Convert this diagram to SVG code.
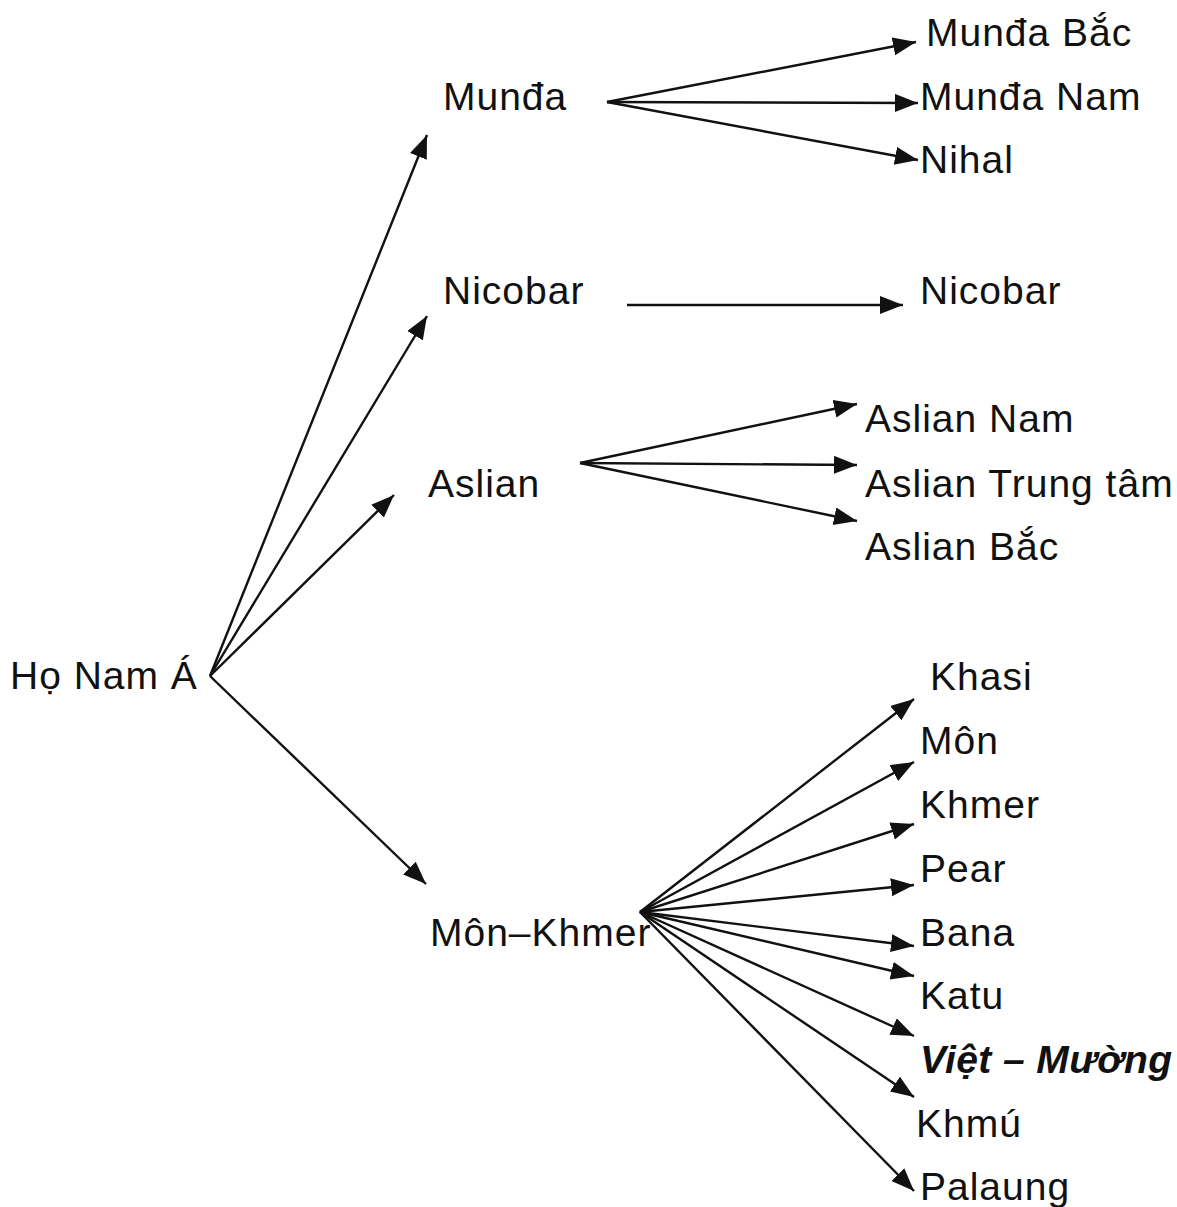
<svg xmlns="http://www.w3.org/2000/svg" width="1177" height="1207" viewBox="0 0 1177 1207">
<style>
text{font-family:"Liberation Sans",Arial,sans-serif;font-size:39px;fill:#111;letter-spacing:1px}
.bi{font-weight:bold;font-style:italic;letter-spacing:0.4px}
.c line{stroke:#111;stroke-width:2.4;fill:none;marker-end:url(#ah)}
</style>
<defs>
<marker id="ah" markerUnits="userSpaceOnUse" markerWidth="26" markerHeight="20" refX="23" refY="9" orient="auto">
<path d="M0,0 L23,9 L0,18 z" fill="#111"/>
</marker>
</defs>
<rect width="1177" height="1207" fill="#fff"/>
<g id="connectors" class="c">
<line x1="210" y1="676" x2="427" y2="135"/>
<line x1="210" y1="676" x2="427" y2="316"/>
<line x1="210" y1="676" x2="394" y2="495"/>
<line x1="210" y1="676" x2="426" y2="884"/>
<line x1="607" y1="102" x2="916" y2="42"/>
<line x1="607" y1="102" x2="918" y2="103"/>
<line x1="607" y1="102" x2="918" y2="160"/>
<line x1="627" y1="305" x2="903" y2="305"/>
<line x1="580" y1="463" x2="857" y2="404"/>
<line x1="580" y1="463" x2="857" y2="465"/>
<line x1="580" y1="463" x2="857" y2="521"/>
<line x1="640" y1="912" x2="914" y2="699"/>
<line x1="640" y1="912" x2="914" y2="762"/>
<line x1="640" y1="912" x2="914" y2="824"/>
<line x1="640" y1="912" x2="914" y2="885"/>
<line x1="640" y1="912" x2="914" y2="946"/>
<line x1="640" y1="912" x2="914" y2="976"/>
<line x1="640" y1="912" x2="914" y2="1036"/>
<line x1="640" y1="912" x2="914" y2="1097"/>
<line x1="640" y1="912" x2="914" y2="1191"/>
</g>
<g id="root"><text x="10" y="689">Họ Nam Á</text></g>
<g id="munda"><text x="443" y="110">Munđa</text></g>
<g id="nicobar"><text x="443" y="304">Nicobar</text></g>
<g id="aslian"><text x="428" y="497">Aslian</text></g>
<g id="monkhmer"><text x="430" y="946">Môn–Khmer</text></g>
<g id="munda-bac"><text x="926" y="46">Munđa Bắc</text></g>
<g id="munda-nam"><text x="920" y="110">Munđa Nam</text></g>
<g id="nihal"><text x="920" y="173">Nihal</text></g>
<g id="nicobar2"><text x="920" y="304">Nicobar</text></g>
<g id="aslian-nam"><text x="865" y="432">Aslian Nam</text></g>
<g id="aslian-tt"><text x="865" y="497">Aslian Trung tâm</text></g>
<g id="aslian-bac"><text x="865" y="560">Aslian Bắc</text></g>
<g id="khasi"><text x="930" y="690">Khasi</text></g>
<g id="mon"><text x="920" y="754">Môn</text></g>
<g id="khmer"><text x="920" y="818">Khmer</text></g>
<g id="pear"><text x="920" y="882">Pear</text></g>
<g id="bana"><text x="920" y="946">Bana</text></g>
<g id="katu"><text x="920" y="1009">Katu</text></g>
<g id="viet-muong"><text class="bi" x="920" y="1073">Việt – Mường</text></g>
<g id="khmu"><text x="916" y="1137">Khmú</text></g>
<g id="palaung"><text x="920" y="1200">Palaung</text></g>
</svg>
